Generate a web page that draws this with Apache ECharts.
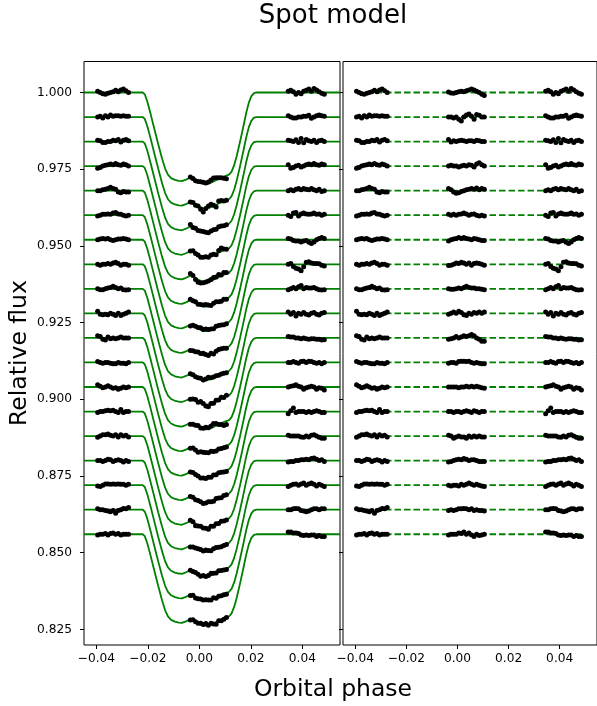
<!DOCTYPE html>
<html><head><meta charset="utf-8">
<script src="https://cdn.jsdelivr.net/npm/echarts@6/dist/echarts.min.js"></script>
<style>html,body{margin:0;padding:0;background:#fff}#c{width:597px;height:706px}</style>
</head><body><div id="c"></div><script>
// ---- data ----
const offsets = [1.000,0.992,0.984,0.976,0.968,0.960,0.952,0.944,0.936,0.928,0.920,0.912,0.904,0.896,0.888,0.880,0.872,0.864,0.856];
const prePhase = [-0.0395,-0.0385,-0.0375,-0.0365,-0.0355,-0.0345,-0.0335,-0.0325,-0.0315,-0.0305,-0.0295,-0.0285,-0.0275];
const inPhase = [-0.0035,-0.0025,-0.0015,-0.0005,0.0005,0.0015,0.0025,0.0035,0.0045,0.0055,0.0065,0.0075,0.0085,0.0095,0.0105];
const postPhase = [0.0345,0.0355,0.0365,0.0375,0.0385,0.0395,0.0405,0.0415,0.0425,0.0435,0.0445,0.0455,0.0465,0.0475,0.0485];
// transit model template: phase and flux drop below each light curve's offset
const modelPhase = [-0.0448,-0.0220,-0.0212,-0.0202,-0.0190,-0.0175,-0.0160,-0.0145,-0.0133,-0.0122,-0.0110,-0.0095,-0.0080,-0.0068,-0.0052,
  -0.0035,-0.0025,-0.0015,-0.0005,0.0005,0.0015,0.0025,0.0035,0.0045,0.0055,0.0065,0.0075,0.0085,0.0095,0.0105,
  0.0115,0.0125,0.0135,0.0145,0.0158,0.0171,0.0182,0.0192,0.0202,0.0212,0.0222,0.0546];
const modelDepth = [0,0,0.0006,0.0030,0.0068,0.0118,0.0168,0.0215,0.0248,0.0268,0.0279,0.0285,0.0288,0.0289,0.0284,
  0.0277,0.0279,0.0285,0.0290,0.0294,0.0297,0.0298,0.0297,0.0294,0.0290,0.0286,0.0282,0.0278,0.0274,0.0271,
  0.0268,0.0258,0.0237,0.0207,0.0160,0.0110,0.0066,0.0033,0.0012,0.0002,0,0];
// residuals (units of 1.4e-4 relative flux)
const resUnit = 1.4e-4;
const resPre = [
 [3,0,-3,-4,-2,0,2,5,2,6,8,4,0],
 [0,2,-2,3,0,5,2,3,3,2,3,2,2],
 [3,2,-2,-2,0,0,3,2,5,-1,3,5,2],
 [-5,-3,0,2,3,5,3,6,3,2,5,3,0],
 [0,0,2,3,5,8,5,3,-3,-5,-2,-3,-3],
 [-2,0,2,2,3,2,5,6,3,2,0,-2,0],
 [0,2,3,2,3,0,-2,0,2,2,3,2,0],
 [0,-2,0,0,2,0,3,5,2,-2,0,0,-2],
 [0,-2,-2,0,2,3,6,3,0,2,-2,-3,-2],
 [5,-2,-3,-2,-3,0,-2,-5,0,-5,-2,0,3],
 [5,3,-3,-5,2,-2,0,-2,0,2,0,0,0],
 [2,0,-2,0,0,-2,-3,-3,0,-2,-2,-3,0],
 [5,2,-2,0,3,0,-3,-2,-5,-3,0,-2,0],
 [-2,0,0,2,3,2,3,0,-2,5,-2,0,0],
 [-3,0,3,3,5,2,0,3,-2,3,0,2,-2],
 [0,0,-2,0,3,2,-2,0,2,0,-3,0,-2],
 [-2,-3,0,3,3,2,3,2,3,2,2,0,2],
 [2,0,0,-2,-3,-5,-2,-8,-2,0,3,2,5],
 [-2,0,0,2,-2,2,3,0,2,-2,0,0,0]];
const resIn = [
 [1,-1,-2,0,2,3,2,4,6,8,6,3,0,-4,-7],
 [0,0,-2,0,-5,-9,0,5,7,2,-5,6,4,0,0],
 [5,-1,2,0,2,3,2,0,2,2,0,3,2,0,0],
 [0,2,0,0,-2,0,2,0,3,2,-2,5,8,3,0],
 [5,2,-3,-6,-5,-2,0,2,3,5,3,6,2,5,3],
 [2,0,2,0,2,3,5,3,0,2,3,0,-2,0,-2],
 [-3,0,2,3,5,3,5,3,2,0,3,2,0,-2,-2],
 [-3,-2,0,3,2,5,3,0,3,-2,2,3,2,0,-2],
 [0,-1,-1,0,2,0,3,6,3,2,2,0,0,-1,-2],
 [-2,0,3,0,5,2,-3,-5,0,-2,2,0,3,0,3],
 [-3,-2,0,3,0,2,5,3,5,8,5,0,-3,-8,-8],
 [-2,0,0,-2,2,3,3,2,3,0,-2,0,-2,-3,-3],
 [0,0,0,0,-2,0,0,2,0,2,0,2,0,-2,-3],
 [0,0,-2,0,0,-2,0,2,0,-2,2,0,-2,0,0],
 [2,0,-5,-2,0,-2,-2,-5,0,-3,0,-2,0,-2,-2],
 [-3,-2,0,2,3,2,5,3,0,2,2,0,-2,-2,-2],
 [0,-2,0,0,-2,2,0,2,5,2,0,2,0,-2,-3],
 [-2,0,-2,0,2,2,3,2,0,2,-2,0,-2,-2,-3],
 [-2,0,0,0,3,2,5,0,3,-2,-5,0,-3,-2,0]];
const resPost = [
 [3,5,2,-4,0,-3,3,5,8,3,9,6,2,-2,-4],
 [3,0,-2,-2,0,0,2,2,4,-3,0,3,5,3,2],
 [3,2,0,4,-2,7,-3,5,2,0,3,-2,2,3,0],
 [3,-5,-3,0,2,-2,0,3,5,3,6,3,2,5,3],
 [0,2,0,3,5,2,5,3,2,5,2,0,3,-2,0],
 [0,-3,5,6,-2,3,5,3,2,3,5,2,3,0,2],
 [3,2,-2,-3,-3,-5,-3,-2,-6,-9,-5,0,3,5,3],
 [0,2,-5,-9,-11,-15,-6,5,6,3,2,2,1,-2,-4],
 [-2,0,3,0,5,8,0,3,2,2,3,0,-2,-3,-2],
 [3,-2,2,-6,0,-2,2,-2,-4,0,2,-2,-4,0,2],
 [3,2,2,0,0,-2,0,-2,-3,-2,-2,-3,-3,-5,-4],
 [0,0,2,0,-2,2,3,0,3,2,0,-2,0,-3,0],
 [0,2,3,5,2,0,-5,-2,0,2,0,-5,-2,-3,-7],
 [-5,2,8,-2,0,0,0,-2,0,-2,0,2,0,-2,-2],
 [2,0,0,0,0,-2,-3,0,-2,2,3,0,-3,-5,-5],
 [-3,-2,-2,0,0,2,2,3,2,5,6,3,0,2,-2],
 [-3,0,2,3,0,3,5,0,3,5,2,-2,2,0,-3],
 [0,0,2,3,2,-2,-3,-5,-3,0,2,2,0,2,2],
 [5,5,3,3,2,-2,-3,-2,-3,-2,-2,-5,-3,-5,-5]];
const xTicks = [-0.04,-0.02,0,0.02,0.04];
const yTicks = [0.825,0.850,0.875,0.900,0.925,0.950,0.975,1.000];
const xRange = [-0.0448, 0.0546];
const yRange = [0.8199, 1.0101];

// ---- build ----
function depthAt(p){
  for(let k=0;k<modelPhase.length-1;k++){
    if(p>=modelPhase[k]-1e-9 && p<=modelPhase[k+1]+1e-9){
      const t=(p-modelPhase[k])/(modelPhase[k+1]-modelPhase[k]);
      return modelDepth[k]+t*(modelDepth[k+1]-modelDepth[k]);
    }
  }
  return 0;
}
const FONT='DejaVu Sans';
const series=[]; const ptsL=[]; const ptsR=[];
offsets.forEach((off,i)=>{
  series.push({type:'line',xAxisIndex:0,yAxisIndex:0,showSymbol:false,symbol:'none',silent:true,
    data:modelPhase.map((p,k)=>[p,off-modelDepth[k]]),lineStyle:{color:'#008000',width:1.8},z:2});
  series.push({type:'line',xAxisIndex:1,yAxisIndex:1,showSymbol:false,symbol:'none',silent:true,
    data:[[prePhase[0],off],[postPhase[postPhase.length-1],off]],
    lineStyle:{color:'#008000',width:1.8,type:[6.5,3]},z:2});
  prePhase.forEach((p,k)=>{const v=resPre[i][k]*resUnit; ptsL.push([p,off+v]); ptsR.push([p,off+v]);});
  inPhase.forEach((p,k)=>{const v=resIn[i][k]*resUnit; ptsL.push([p,off-depthAt(p)+v]); ptsR.push([p,off+v]);});
  postPhase.forEach((p,k)=>{const v=resPost[i][k]*resUnit; ptsL.push([p,off+v]); ptsR.push([p,off+v]);});
});
series.push({type:'scatter',xAxisIndex:0,yAxisIndex:0,data:ptsL,symbolSize:5,itemStyle:{color:'#000',opacity:1},z:5,silent:true});
series.push({type:'scatter',xAxisIndex:1,yAxisIndex:1,data:ptsR,symbolSize:5,itemStyle:{color:'#000',opacity:1},z:5,silent:true});

function xAxis(idx){
  return {type:'value',gridIndex:idx,min:xRange[0],max:xRange[1],position:'bottom',
    axisLine:{show:false,onZero:false},splitLine:{show:false},
    axisTick:{show:true,length:4,customValues:xTicks,lineStyle:{color:'#000',width:1}},
    axisLabel:{show:true,customValues:xTicks,margin:8,color:'#000',fontSize:12.2,fontFamily:FONT,
      formatter:v=>(v<-1e-9?'\u2212':'')+Math.abs(v).toFixed(2)}};
}
function yAxis(idx,labels){
  return {type:'value',gridIndex:idx,min:yRange[0],max:yRange[1],position:'left',
    axisLine:{show:false,onZero:false},splitLine:{show:false},
    axisTick:{show:true,length:4,customValues:yTicks,lineStyle:{color:'#000',width:1}},
    axisLabel:{show:labels,customValues:yTicks,margin:12,color:'#000',fontSize:12.2,fontFamily:FONT,
      formatter:v=>v.toFixed(3)}};
}
const chart=echarts.init(document.getElementById('c'),null,{renderer:'canvas'});
chart.setOption({
  animation:false,
  backgroundColor:'#fff',
  grid:[
    {left:84,top:61.5,width:256,height:583.5,show:true,borderColor:'#000',borderWidth:1,backgroundColor:'transparent'},
    {left:343,top:61.5,width:256,height:583.5,show:true,borderColor:'#000',borderWidth:1,backgroundColor:'transparent'}],
  xAxis:[xAxis(0),xAxis(1)],
  yAxis:[yAxis(0,true),yAxis(1,false)],
  series:series,
  graphic:[
    {type:'text',x:333,y:16,style:{text:'Spot model',font:'26px "DejaVu Sans"',fill:'#000',textAlign:'center',textVerticalAlign:'middle'}},
    {type:'text',x:333,y:690,style:{text:'Orbital phase',font:'23.5px "DejaVu Sans"',fill:'#000',textAlign:'center',textVerticalAlign:'middle'}},
    {type:'text',x:20,y:353,rotation:Math.PI/2,style:{text:'Relative flux',font:'23.5px "DejaVu Sans"',fill:'#000',textAlign:'center',textVerticalAlign:'middle'}}
  ]
});
</script></body></html>
